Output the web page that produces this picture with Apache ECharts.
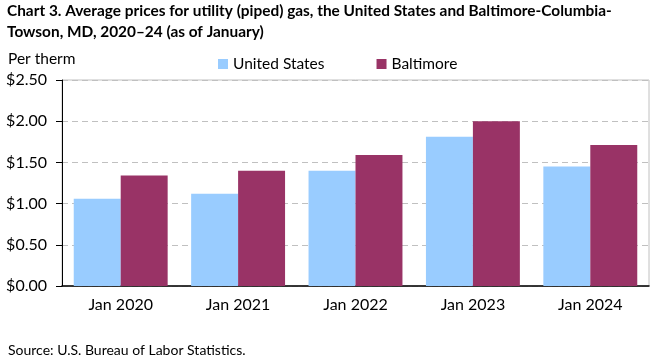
<!DOCTYPE html>
<html><head><meta charset="utf-8">
<script src="https://cdn.jsdelivr.net/npm/echarts@6/dist/echarts.min.js"></script>
<style>html,body{margin:0;padding:0;background:#fff}#c{width:661px;height:361px}</style>
</head><body><div id="c"></div>
<script>
const categories = ['Jan 2020','Jan 2021','Jan 2022','Jan 2023','Jan 2024'];
const usValues = [1.06, 1.12, 1.40, 1.81, 1.45];
const baltimoreValues = [1.34, 1.40, 1.59, 2.00, 1.71];
const seriesNames = ['United States','Baltimore'];
const FONT = 'Lato';
const chart = echarts.init(document.getElementById('c'), null, {renderer:'canvas'});
chart.setOption({
  animation:false,
  textStyle:{fontFamily:FONT},
  title:[
    {text:'Chart 3. Average prices for utility (piped) gas, the United States and Baltimore-Columbia-\nTowson, MD, 2020\u201324 (as of January)',
     left:7, top:1, padding:0, textStyle:{fontFamily:FONT,fontWeight:'bold',fontSize:15.4,color:'#000',lineHeight:21}},
    {text:'Per therm', left:8, top:51, padding:0, textStyle:{fontFamily:FONT,fontWeight:'normal',fontSize:15.5,color:'#000'}},
    {text:'Source: U.S. Bureau of Labor Statistics.', left:8, top:343, padding:0, textStyle:{fontFamily:FONT,fontWeight:'normal',fontSize:14,color:'#000'}}
  ],
  legend:{data:seriesNames, left:218, top:56, padding:0, icon:'rect', itemWidth:10, itemHeight:10, itemGap:52,
    textStyle:{fontFamily:FONT,fontSize:15.5,color:'#000'}},
  grid:{left:62, right:12, top:80, bottom:75, show:true, borderColor:'#c0c0c0', borderWidth:1},
  xAxis:{type:'category', data:categories,
    axisLine:{lineStyle:{color:'#000',width:1.5}}, axisTick:{show:false},
    axisLabel:{color:'#000',fontSize:16,margin:11,fontFamily:FONT}},
  yAxis:{type:'value', min:0, max:2.5, interval:0.5,
    axisLine:{show:true,lineStyle:{color:'#000',width:1}},
    axisTick:{show:true,length:6,lineStyle:{color:'#000'}},
    axisLabel:{color:'#000',fontSize:16,margin:15,fontFamily:FONT,formatter:v=>'$'+v.toFixed(2)},
    splitLine:{show:true,lineStyle:{color:'#c0c0c0',type:[6,4]}}},
  series:[
    {name:seriesNames[0], type:'bar', data:usValues, barWidth:'40%', barGap:'0%', itemStyle:{color:'#99ccff'}},
    {name:seriesNames[1], type:'bar', data:baltimoreValues, barWidth:'40%', barGap:'0%', itemStyle:{color:'#993366'}}
  ]
});
</script></body></html>
